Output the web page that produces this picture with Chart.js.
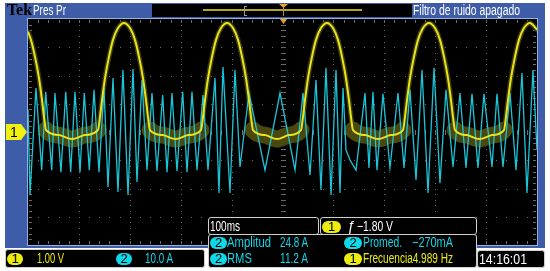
<!DOCTYPE html>
<html><head><meta charset="utf-8">
<script src="https://cdn.jsdelivr.net/npm/chart.js@4.4.1/dist/chart.umd.min.js"></script>
<style>
html,body{margin:0;padding:0;background:#fff;}
#wrap{position:relative;width:550px;height:271px;overflow:hidden;font-family:"Liberation Sans Narrow","Liberation Sans",Arial,sans-serif;}
#frame{position:absolute;left:5px;top:3px;width:540px;height:245px;background:#3e5ca8;}
#c{position:absolute;left:0;top:0;}
.t{position:absolute;white-space:nowrap;transform-origin:0 0;line-height:14px;font-size:14px;}
.box{position:absolute;background:#000;border:1px solid #cfcfcf;border-radius:3px;box-sizing:border-box;}
.pill{position:absolute;border-radius:6px;color:#000;text-align:center;font-size:13px;line-height:12px;height:12px;width:17px;}
.y{color:#ecec10;} .cy{color:#10d8e8;} .w{color:#fff;}
.py{background:#ecec10;} .pc{background:#10d8e8;}
</style></head>
<body><div id="wrap">
<div id="frame"></div>
<canvas id="c" width="550" height="271"></canvas>

<!-- header -->
<div class="t" data-w="25" style="left:7px;top:1px;font-family:'Liberation Serif',serif;font-weight:bold;font-size:17px;line-height:17px;color:#000;">Tek</div>
<div class="t w" data-w="33" style="left:33px;top:3px;">Pres Pr</div>
<div style="position:absolute;left:152px;top:4px;width:260px;height:13px;background:#000;"></div>
<div style="position:absolute;left:203px;top:9px;width:159px;height:2px;background:#b0a820;"></div>
<div style="position:absolute;left:244px;top:6px;width:2px;height:8px;border:1px solid #9a9a9a;border-right:none;"></div>
<div style="position:absolute;left:279px;top:4px;width:9px;height:4px;background:#f0a020;clip-path:polygon(0 0,100% 0,50% 100%);"></div>
<div style="position:absolute;left:283px;top:7px;width:1px;height:9px;background:#c08820;"></div>
<div class="t w" data-w="107" style="left:413px;top:3px;">Filtro de ruido apagado</div>

<!-- plot markers -->
<div style="position:absolute;left:280px;top:19px;width:7px;height:5px;background:#f0a020;clip-path:polygon(0 0,100% 0,50% 100%);"></div>
<div style="position:absolute;left:6px;top:124px;width:21px;height:16px;background:#f2f010;clip-path:polygon(0 0,72% 0,100% 50%,72% 100%,0 100%);"></div>
<div class="t" style="left:10px;top:125px;color:#000;font-size:14px;">1</div>

<!-- bottom-left channel bar -->
<div class="box" style="left:5px;top:249px;width:200px;height:19px;"></div>
<div class="pill py" style="left:7px;top:253px;width:16px;">1</div>
<div class="t y" data-w="27" style="left:37px;top:251px;">1.00 V</div>
<div class="pill pc" style="left:116px;top:253px;width:16px;">2</div>
<div class="t cy" data-w="28" style="left:145px;top:251px;">10.0 A</div>

<!-- timebase / trigger -->
<div class="box" style="left:208px;top:217px;width:111px;height:18px;"></div>
<div class="t w" data-w="30" style="left:210px;top:219px;">100ms</div>
<div class="box" style="left:320px;top:217px;width:157px;height:18px;"></div>
<div class="pill py" style="left:322px;top:221px;width:19px;">1</div>
<div class="t w" style="left:347px;top:219px;font-style:italic;">ƒ</div>
<div class="t w" data-w="36" style="left:357px;top:219px;">−1.80 V</div>

<!-- measurements -->
<div class="box" style="left:208px;top:234px;width:269px;height:34px;"></div>
<div class="pill pc" style="left:210px;top:237px;">2</div>
<div class="t cy" data-w="44" style="left:227px;top:235px;">Amplitud</div>
<div class="t cy" data-w="28" style="left:280px;top:235px;">24.8 A</div>
<div class="pill pc" style="left:344px;top:237px;width:18px;">2</div>
<div class="t cy" data-w="39" style="left:363px;top:235px;">Promed.</div>
<div class="t cy" data-w="41" style="left:412px;top:235px;">−270mA</div>
<div class="pill pc" style="left:210px;top:253px;">2</div>
<div class="t cy" data-w="25" style="left:227px;top:251px;">RMS</div>
<div class="t cy" data-w="28" style="left:280px;top:251px;">11.2 A</div>
<div class="pill py" style="left:344px;top:253px;width:18px;">1</div>
<div class="t y" data-w="90" style="left:363px;top:251px;">Frecuencia4.989 Hz</div>

<div class="box" style="left:477px;top:250px;width:68px;height:18px;"></div>
<div class="t w" data-w="48" style="left:479px;top:252px;">14:16:01</div>
</div>

<script>
// ---- Channel 1 (yellow), volts vs time (ms) ----
const ch1Time = [0,5.9,13.8,21.6,27.5,31.5,35.4, 61,86.5,112,
 137.5,141.4,145.4,151.3,159.1,167.0,176.8,188.6,200.4,210.2,218.1,225.9,231.8,235.8,239.7, 264.8,289.8,314.8,
 339.9,343.8,347.8,353.7,361.5,369.4,379.2,391.0,402.8,412.6,420.5,428.3,434.2,438.2,442.1, 465.7,489.2,512.7,
 536.3,540.2,544.2,550.1,557.9,565.8,575.6,587.4,599.2,609.0,616.9,624.7,630.6,634.6,638.5, 662.6,687.6,712.6,
 736.7,740.6,744.6,750.5,758.3,766.2,776.0,787.8,799.6,809.4,817.3,825.1,831.0,835.0,838.9, 862.0,887.0,912.0,
 935.1,939.0,943.0,948.9,956.7,964.6,974.4,986.2,1000];
const ch1Volts = [3.55,3.26,2.66,1.91,1.13,0.53,0.07, -0.11,-0.25,-0.11,
 0.07,0.53,1.13,1.91,2.66,3.26,3.68,3.86,3.68,3.26,2.66,1.91,1.13,0.53,0.07, -0.11,-0.25,-0.11,
 0.07,0.53,1.13,1.91,2.66,3.26,3.68,3.86,3.68,3.26,2.66,1.91,1.13,0.53,0.07, -0.11,-0.25,-0.11,
 0.07,0.53,1.13,1.91,2.66,3.26,3.68,3.86,3.68,3.26,2.66,1.91,1.13,0.53,0.07, -0.11,-0.25,-0.11,
 0.07,0.53,1.13,1.91,2.66,3.26,3.68,3.86,3.68,3.26,2.66,1.91,1.13,0.53,0.07, -0.11,-0.25,-0.11,
 0.07,0.53,1.13,1.91,2.66,3.26,3.68,3.86,3.62];

// ---- Channel 2 (cyan), amps vs time (ms): successive peaks/troughs ----
const ch2Time = [0,3.9,15.7,26.9,34.8,46.6,53.0,64.8,74.1,83.9,92.3,102.2,110.6,120.4,129.7,139.5,149.3,157.2,167.0,176.8,186.6,196.5,206.3,214.1,224.0,233.8,
 243.6,253.4,264.6,273.1,282.9,292.7,303.9,312.4,322.2,332.0,343.8,353.6,367.4,375.2,383.1,396.8,406.7,416.5,434.2,465.6,495.1,524.6,540.3,554.0,565.8,575.6,585.5,595.3,605.1,613.0,618.9,
 624.8,632.6,644.4,662.1,669.9,677.8,685.6,697.4,711.2,726.9,738.7,750.5,762.3,774.1,785.9,797.7,809.4,821.2,835.0,848.7,860.5,872.3,884.1,895.9,911.6,921.4,933.2,947.0,958.8,970.5,980.3,992.1,1000];
const ch2Amps = [8,-22.3,15.6,-13.5,14.2,-13.5,13.8,-14.2,14.2,-14.2,14.2,-14.2,13.8,-13.5,14.9,-14.2,15.6,-19.5,19.1,-21.2,21.9,-22.3,22.3,-17.7,18.4,-13.5,
 13.8,-13.8,13.1,-14.2,13.8,-13.8,14.2,-14.2,14.2,-13.5,13.1,-13.5,19.1,-21.6,23.0,-21.6,21.9,-12.4,13.8,-13.5,13.8,-13.5,13.8,-15.2,18.4,-20.5,22.7,-22.3,21.9,-21.6,15.6,
 -6.4,-9.9,-13.5,13.8,-12.7,14.2,-13.5,13.5,-12.7,13.8,-12.7,14.9,-17.0,21.9,-21.6,22.7,-18.1,14.9,-12.4,13.8,-12.7,13.5,-12.7,13.5,-12.4,13.5,-12.4,13.8,-13.5,20.9,-21.6,21.9,-6.4];

const ch1 = ch1Time.map((t,i)=>({x:t,y:ch1Volts[i]}));
const ch2 = ch2Time.map((t,i)=>({x:t,y:ch2Amps[i]}));

const graticule = {
  id:'graticule',
  beforeDatasetsDraw(chart){
    const {ctx, chartArea:a, scales:{x,y}} = chart;
    ctx.save();
    ctx.fillStyle='#000';
    ctx.fillRect(a.left,a.top,a.width,a.height);
    ctx.fillStyle='#6a6a6a';
    const xs=[], ys=[];
    for(let i=0;i<=50;i++) xs.push(x.getPixelForValue(i*20));
    for(let j=0;j<=40;j++) ys.push(y.getPixelForValue(4 - j*0.2));
    for(let d=1; d<10; d++){ if(d===5) continue; const px=Math.round(xs[d*5]);
      for(let j=1;j<40;j++) ctx.fillRect(px, Math.round(ys[j]), 1, 1); }
    for(let d=1; d<8; d++){ if(d===4) continue; const py=Math.round(ys[d*5]);
      for(let i=1;i<50;i++) ctx.fillRect(Math.round(xs[i]), py, 1, 1); }
    const cx=Math.round(xs[25]), cy=Math.round(ys[20]);
    for(let j=1;j<40;j++) ctx.fillRect(cx-2, Math.round(ys[j]), 5, 1);
    for(let i=1;i<50;i++) ctx.fillRect(Math.round(xs[i]), cy-2, 1, 5);
    for(let i=1;i<50;i++){ ctx.fillRect(Math.round(xs[i]), a.top+1, 1, 3); ctx.fillRect(Math.round(xs[i]), a.bottom-4, 1, 3); }
    for(let j=1;j<40;j++){ ctx.fillRect(a.left+1, Math.round(ys[j]), 3, 1); ctx.fillRect(a.right-4, Math.round(ys[j]), 3, 1); }
    ctx.restore();
  },
  afterDraw(chart){
    const {ctx, chartArea:a} = chart;
    ctx.save();
    ctx.strokeStyle='#8db2e6'; ctx.lineWidth=1;
    ctx.strokeRect(a.left-0.5, a.top-0.5, a.width+1, a.height+1);
    ctx.restore();
  }
};

const inTrough = c => (c.p0.parsed.y < 0.3 && c.p1.parsed.y < 0.3);

new Chart(document.getElementById('c'), {
  type:'line',
  data:{ datasets:[
    { label:'CH1', data:ch1, yAxisID:'y', borderColor:'#e8e41c', borderWidth:2, pointRadius:0, cubicInterpolationMode:'monotone', order:0 },
    { label:'CH2', data:ch2, yAxisID:'y2', borderColor:'#1cc4d8', borderWidth:1.3, pointRadius:0, tension:0, order:1 },
    { label:'CH1 noise', data:ch1, yAxisID:'y', borderColor:'#3c3a0c', pointRadius:0, cubicInterpolationMode:'monotone', order:2,
      borderCapStyle:'round', borderJoinStyle:'round', borderWidth:5,
      segment:{ borderWidth: c => inTrough(c) ? 17 : 5, borderColor: c => inTrough(c) ? '#4a470f' : '#3a380b' } }
  ]},
  options:{
    responsive:false, animation:false, devicePixelRatio:1,
    layout:{ padding:{ left:28, top:19, right:13, bottom:26 } },
    plugins:{ legend:{display:false}, tooltip:{enabled:false} },
    scales:{
      x:{ type:'linear', min:0, max:1000, display:false },
      y:{ min:-4, max:4, display:false },
      y2:{ min:-40, max:40, display:false }
    }
  },
  plugins:[graticule]
});

function fitTexts(){
  document.querySelectorAll('[data-w]').forEach(el=>{
    el.style.transform='none';
    const w = el.getBoundingClientRect().width;
    const target = parseFloat(el.dataset.w);
    if(w>0) el.style.transform = 'scaleX(' + (target/w).toFixed(3) + ')';
  });
}
fitTexts();
if(document.fonts && document.fonts.ready) document.fonts.ready.then(fitTexts);
</script>
</body></html>
